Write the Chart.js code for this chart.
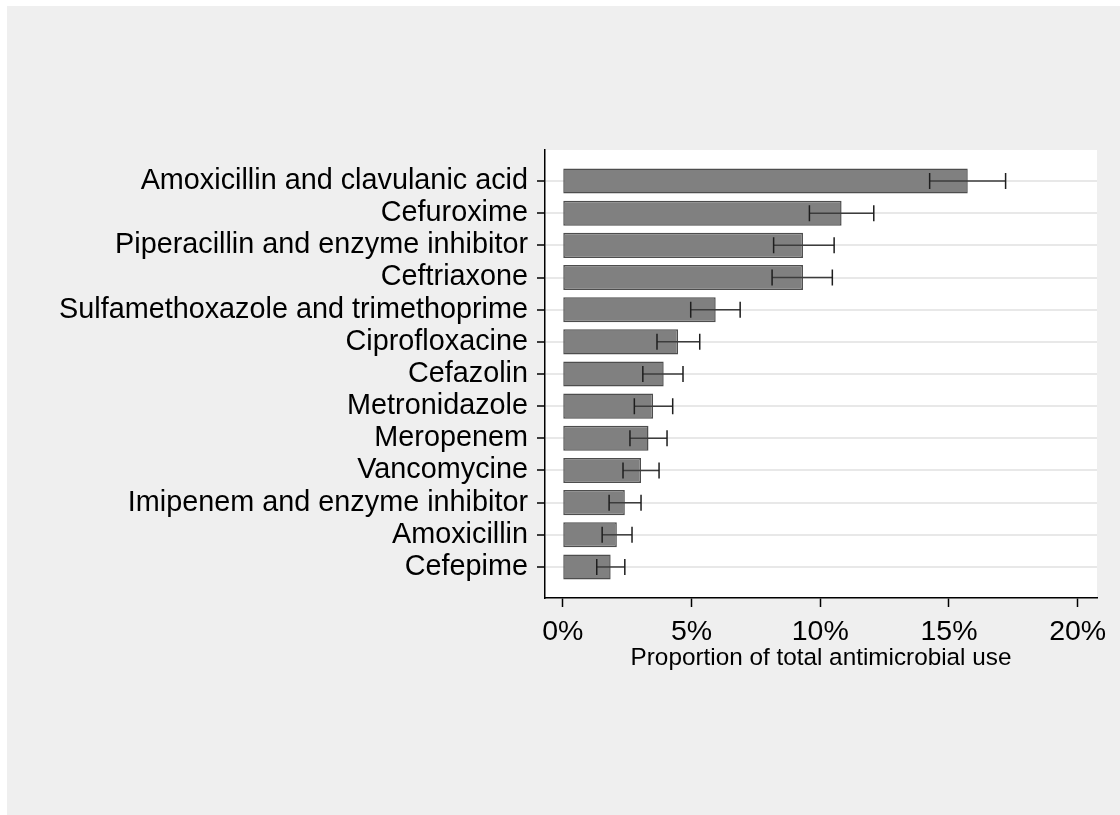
<!DOCTYPE html>
<html>
<head>
<meta charset="utf-8">
<script src="https://cdn.jsdelivr.net/npm/chart.js@4/dist/chart.umd.min.js"></script>
<style>
    body { margin: 0; background: #efefef; }
    canvas { display: block; }
</style>
</head>
<body>
<canvas id="myChart" width="1120" height="815"></canvas>
<script>
// antimicrobials, most used first
const drugs = [
    'Amoxicillin and clavulanic acid',
    'Cefuroxime',
    'Piperacillin and enzyme inhibitor',
    'Ceftriaxone',
    'Sulfamethoxazole and trimethoprime',
    'Ciprofloxacine',
    'Cefazolin',
    'Metronidazole',
    'Meropenem',
    'Vancomycine',
    'Imipenem and enzyme inhibitor',
    'Amoxicillin',
    'Cefepime'
];

// share of total use (%) with 95% CI
const share = [15.73, 10.83, 9.33, 9.33, 5.94, 4.48, 3.92, 3.51, 3.33, 3.04, 2.41, 2.10, 1.86];
const lower = [14.25, 9.58, 8.19, 8.13, 4.97, 3.66, 3.11, 2.78, 2.61, 2.34, 1.80, 1.53, 1.32];
const upper = [17.20, 12.08, 10.54, 10.47, 6.89, 5.32, 4.67, 4.27, 4.05, 3.74, 3.04, 2.69, 2.41];

const x_ticks = [0, 5, 10, 15, 20];

const FONT = '"Liberation Sans", Arial, sans-serif';

const ctx = document.getElementById('myChart').getContext('2d');

// white margin, grey graph region, white plot region
const background = {
    id: 'background',
    beforeDraw(chart) {
        const c = chart.ctx;
        const a = chart.chartArea;
        c.save();
        c.fillStyle = '#ffffff';
        c.fillRect(0, 0, chart.width, chart.height);
        c.fillStyle = '#efefef';
        c.fillRect(7, 6, chart.width - 7, chart.height - 6);
        c.fillStyle = '#ffffff';
        c.fillRect(a.left, a.top, a.right - a.left, a.bottom - a.top);
        c.restore();
    }
};

// confidence interval whiskers
const errorBars = {
    id: 'errorBars',
    afterDatasetsDraw(chart) {
        const c = chart.ctx;
        const xs = chart.scales.x;
        const ys = chart.scales.y;
        c.save();
        drugs.forEach((d, i) => {
            const y = ys.getPixelForValue(i);
            const x1 = xs.getPixelForValue(lower[i]);
            const x2 = xs.getPixelForValue(upper[i]);
            c.strokeStyle = '#3c3c3c';
            c.lineWidth = 1.5;
            c.beginPath();
            c.moveTo(x1, y);
            c.lineTo(x2, y);
            c.stroke();
            c.strokeStyle = '#1e1e1e';
            c.beginPath();
            c.moveTo(x1, y - 8);
            c.lineTo(x1, y + 8);
            c.moveTo(x2, y - 8);
            c.lineTo(x2, y + 8);
            c.stroke();
        });
        c.restore();
    }
};

const chart = new Chart(ctx, {
    type: 'bar',
    data: {
        datasets: [{
            data: share.map((v, i) => ({ x: v, y: i })),
            backgroundColor: '#808080',
            borderColor: '#4d4d4d',
            borderWidth: 1.5,
            borderSkipped: false,
            categoryPercentage: 1,
            barPercentage: 0.78
        }]
    },
    options: {
        indexAxis: 'y',
        responsive: false,
        animation: false,
        layout: {
            padding: { top: 150, right: 23, bottom: 142, left: 0 }
        },
        plugins: {
            legend: { display: false },
            tooltip: { enabled: false }
        },
        scales: {
            x: {
                type: 'linear',
                min: -0.69,
                max: 20.75,
                afterBuildTicks: (scale) => {
                    scale.ticks = x_ticks.map(v => ({ value: v }));
                },
                afterFit: (scale) => {
                    scale.height = 75;
                },
                ticks: {
                    callback: (v) => v + '%',
                    color: '#000',
                    padding: 8,
                    maxRotation: 0,
                    font: { family: FONT, size: 28.5 }
                },
                grid: {
                    drawOnChartArea: false,
                    drawTicks: true,
                    tickLength: 9,
                    tickColor: '#000',
                    tickWidth: 1.5
                },
                border: { color: '#000', width: 1.5 },
                title: {
                    display: true,
                    text: 'Proportion of total antimicrobial use',
                    color: '#000',
                    padding: 0,
                    font: { family: FONT, size: 24.3 }
                }
            },
            y: {
                type: 'linear',
                reverse: true,
                offset: false,
                min: -0.965,
                max: 12.965,
                afterBuildTicks: (scale) => {
                    scale.ticks = drugs.map((d, i) => ({ value: i }));
                },
                afterFit: (scale) => {
                    scale.width = 545;
                },
                ticks: {
                    callback: (v) => drugs[v],
                    color: '#000',
                    padding: 9,
                    autoSkip: false,
                    font: { family: FONT, size: 28.8 }
                },
                grid: {
                    offset: false,
                    color: '#e8e8e8',
                    lineWidth: 2,
                    drawTicks: true,
                    tickLength: 8,
                    tickColor: '#000',
                    tickWidth: 1.5
                },
                border: { color: '#000', width: 1.5 }
            }
        }
    },
    plugins: [background, errorBars]
});
</script>
</body>
</html>
